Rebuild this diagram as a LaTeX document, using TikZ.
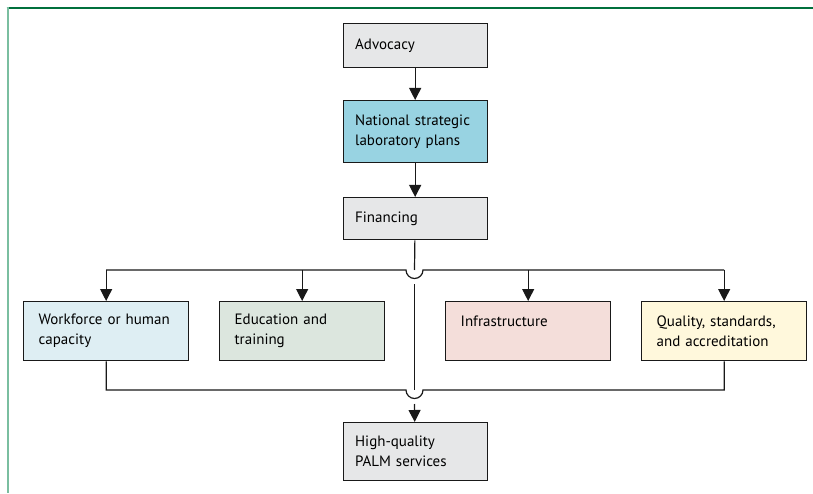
\documentclass[tikz,border=0pt]{standalone}
\usepackage{fontspec}
\setmainfont{PT Sans}
\usetikzlibrary{arrows.meta}
\definecolor{frametop}{RGB}{0,112,60}
\definecolor{frameside}{RGB}{122,190,160}
\definecolor{boxgrey}{RGB}{230,231,232}
\definecolor{planblue}{RGB}{152,211,226}
\definecolor{staffblue}{RGB}{222,238,243}
\definecolor{trainggreen}{RGB}{220,230,222}
\definecolor{infrapink}{RGB}{244,222,218}
\definecolor{qualyellow}{RGB}{255,248,220}

\begin{document}
\begin{tikzpicture}[x=1pt, y=1pt,
	box/.style={draw=black!90, line width=1.3pt, anchor=north west, align=left,
		inner xsep=15pt, inner ysep=0pt, font=\fontsize{15}{20}\selectfont},
	midbox/.style={box, inner xsep=12pt, text width=120pt},
	lowbox/.style={box, text width=135pt, minimum height=59pt},
	link/.style={line width=1.2pt, black!90},
	arr/.style={link, -{Triangle[width=12pt, length=12pt]}}]
	\useasboundingbox (0,0) rectangle (813,493);
	\draw[frametop, line width=1.2pt] (6.5,485) -- (813,485);
	\draw[frameside, line width=2pt] (7.5,485.6) -- (7.5,0);
	\node[midbox, fill=boxgrey, minimum height=44pt] (adv) at (342.5,470) {Advocacy};
	\node[midbox, fill=planblue, minimum height=62pt] (nat) at (342.5,393) {National strategic\\laboratory plans};
	\node[midbox, fill=boxgrey, minimum height=42pt] (fin) at (342.5,296) {Financing};
	\node[lowbox, fill=staffblue] (wf) at (23,192) {Workforce or human\\capacity};
	\node[lowbox, fill=trainggreen] (edu) at (219,192) {Education and\\training};
	\node[lowbox, fill=infrapink] (inf) at (445,192) {Infrastructure\\\mbox{}};
	\node[lowbox, fill=qualyellow] (qual) at (641,192) {Quality, standards,\\and accreditation};
	\node[midbox, fill=boxgrey, minimum height=58pt] (hq) at (342.5,71) {High-quality\\PALM services};
	\coordinate (bus1) at (414.5,223);
	\coordinate (bus2) at (414.5,103);
	\draw[arr] (adv) -- (nat);
	\draw[arr] (nat) -- (fin);
	\draw[link] (fin) -- (bus1);
	\draw[link] (bus1 -| wf.north) -- ([xshift=-8.5pt]bus1) arc (180:360:8.5pt) -- (bus1 -| qual.north);
	\foreach \n in {wf,edu,inf,qual}
		\draw[arr] (bus1 -| \n.north) -- (\n.north);
	\draw[link] ([yshift=-14pt]bus1) -- (bus2);
	\draw[link] (wf.south) |- ([xshift=-8.5pt]bus2) arc (180:360:8.5pt) -| (qual.south);
	\draw[arr] ([yshift=-14pt]bus2) -- (hq);
\end{tikzpicture}
\end{document}
